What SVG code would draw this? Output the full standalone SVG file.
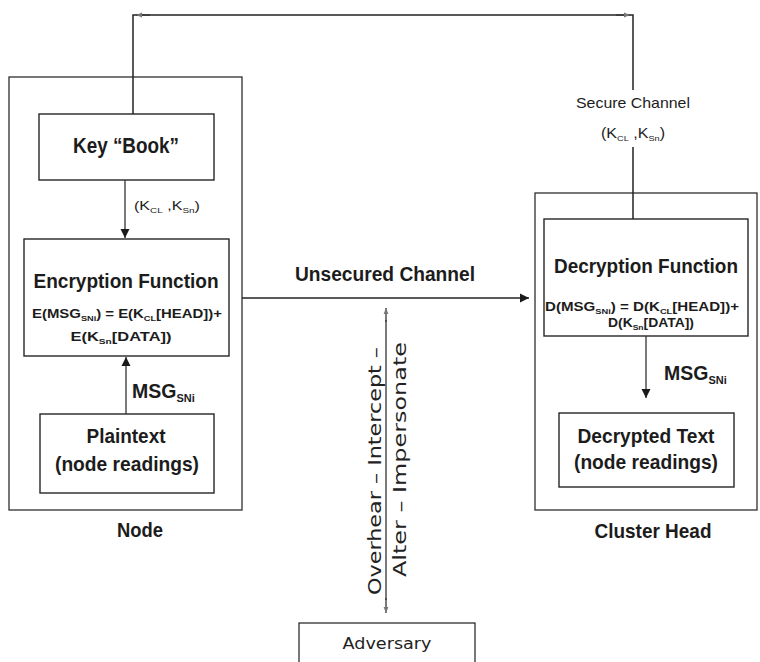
<svg xmlns="http://www.w3.org/2000/svg" width="760" height="662" viewBox="0 0 760 662">
  <style>
    .frame{fill:#fff;stroke:#2e2e2e;stroke-width:1.3}
    .box{fill:#fff;stroke:#262626;stroke-width:1.4}
    .t{font-family:"Liberation Sans",Arial,sans-serif;fill:#1c1c1c;text-anchor:middle}
    .s{text-anchor:start}
    .b{font-weight:bold}
    .h{font-family:"DejaVu Sans","Liberation Sans",sans-serif;fill:#222}
    .wire{stroke:#222;stroke-width:1.5;fill:none}
    .thin{stroke:#333;stroke-width:1.3;fill:none}
  </style>
  <defs>
    <marker id="arr" viewBox="0 0 10 10" refX="10" refY="5" markerWidth="9" markerHeight="12" markerUnits="userSpaceOnUse" orient="auto">
      <path d="M0,0 L10,5 L0,10 Z" fill="#1a1a1a"/>
    </marker>
    <marker id="tip" viewBox="0 0 10 10" refX="10" refY="5" markerWidth="6" markerHeight="6" markerUnits="userSpaceOnUse" orient="auto">
      <path d="M0,1 L10,5 L0,9 Z" fill="#777"/>
    </marker>
  </defs>
  <rect width="760" height="662" fill="#fff"/>

  <!-- sensor node -->
  <g id="node">
    <rect class="frame" x="9" y="77" width="233" height="433"/>
    <text class="t b" x="140" y="537" font-size="21" textLength="46" lengthAdjust="spacingAndGlyphs">Node</text>
  </g>

  <!-- cluster head -->
  <g id="cluster-head">
    <rect class="frame" x="535" y="193" width="222" height="317"/>
    <text class="t b" x="653" y="538" font-size="21" textLength="117" lengthAdjust="spacingAndGlyphs">Cluster Head</text>
  </g>

  <g id="key-book">
    <rect class="box" x="39" y="114" width="175" height="66"/>
    <text class="t b" x="126" y="153" font-size="22" textLength="106" lengthAdjust="spacingAndGlyphs">Key “Book”</text>
  </g>

  <g id="encryption">
    <rect class="box" x="24" y="239" width="205" height="117"/>
    <text class="t b" x="126" y="288" font-size="21" textLength="185" lengthAdjust="spacingAndGlyphs">Encryption Function</text>
    <text class="t b" x="127" y="318" font-size="13" textLength="190" lengthAdjust="spacingAndGlyphs">E(MSG<tspan font-size="8" dy="3">SNi</tspan><tspan dy="-3">)  = E(K</tspan><tspan font-size="8" dy="3">CL</tspan><tspan dy="-3">[HEAD])+</tspan></text>
    <text class="t b" x="121" y="341" font-size="13" textLength="101" lengthAdjust="spacingAndGlyphs">E(K<tspan font-size="8" dy="3">Sn</tspan><tspan dy="-3">[DATA])</tspan></text>
  </g>

  <g id="plaintext">
    <rect class="box" x="40" y="414" width="174" height="79"/>
    <text class="t b" x="126" y="443" font-size="21" textLength="79" lengthAdjust="spacingAndGlyphs">Plaintext</text>
    <text class="t b" x="127" y="471" font-size="21" textLength="144" lengthAdjust="spacingAndGlyphs">(node readings)</text>
  </g>

  <g id="decryption">
    <rect class="box" x="544" y="219" width="204" height="117"/>
    <text class="t b" x="646" y="273" font-size="21" textLength="184" lengthAdjust="spacingAndGlyphs">Decryption Function</text>
    <text class="t b" x="642" y="311" font-size="13" textLength="194" lengthAdjust="spacingAndGlyphs">D(MSG<tspan font-size="8" dy="3">SNi</tspan><tspan dy="-3">)   = D(K</tspan><tspan font-size="8" dy="3">CL</tspan><tspan dy="-3">[HEAD])+</tspan></text>
    <text class="t b" x="651" y="327" font-size="13" textLength="86" lengthAdjust="spacingAndGlyphs">D(K<tspan font-size="8" dy="3">Sn</tspan><tspan dy="-3">[DATA])</tspan></text>
  </g>

  <g id="decrypted-text">
    <rect class="box" x="559" y="413" width="175" height="74"/>
    <text class="t b" x="646" y="443" font-size="21" textLength="137" lengthAdjust="spacingAndGlyphs">Decrypted Text</text>
    <text class="t b" x="646" y="469" font-size="21" textLength="144" lengthAdjust="spacingAndGlyphs">(node readings)</text>
  </g>

  <g id="adversary">
    <rect class="frame" x="299" y="623" width="176" height="45"/>
    <text class="h" x="387" y="649" font-size="16" text-anchor="middle" textLength="89" lengthAdjust="spacingAndGlyphs">Adversary</text>
  </g>

  <!-- connectors -->
  <g id="connectors">
    <!-- secure channel loop over the top -->
    <path class="wire" d="M133,114 V15 H633 V90"/>
    <path class="wire" d="M633,147 V219"/>
    <path class="thin" d="M150,15 H136" marker-end="url(#tip)"/>
    <path class="thin" d="M616,15 H630" marker-end="url(#tip)"/>
    <text class="t" x="633" y="108" font-size="15" fill="#444" textLength="114" lengthAdjust="spacingAndGlyphs">Secure Channel</text>
    <text class="t" x="633" y="138" font-size="14" fill="#444" textLength="64" lengthAdjust="spacingAndGlyphs">(K<tspan font-size="8" dy="3">CL</tspan><tspan dy="-3"> ,K</tspan><tspan font-size="8" dy="3">Sn</tspan><tspan dy="-3">)</tspan></text>

    <!-- key book to encryption -->
    <path class="thin" d="M125,180 V238" marker-end="url(#arr)"/>
    <text class="t" x="167" y="210" font-size="13" textLength="66" lengthAdjust="spacingAndGlyphs">(K<tspan font-size="8" dy="3">CL</tspan><tspan dy="-3"> ,K</tspan><tspan font-size="8" dy="3">Sn</tspan><tspan dy="-3">)</tspan></text>

    <!-- plaintext to encryption -->
    <path class="thin" d="M126,414 V357" marker-end="url(#arr)"/>
    <text class="t s b" x="132" y="398" font-size="19.5">MSG<tspan font-size="11" dy="4">SNi</tspan></text>

    <!-- unsecured channel -->
    <path class="wire" d="M242,298 H529" marker-end="url(#arr)"/>
    <text class="t b" x="385" y="281" font-size="20" textLength="180" lengthAdjust="spacingAndGlyphs">Unsecured Channel</text>

    <!-- decryption to decrypted text -->
    <path class="thin" d="M646,336 V398" marker-end="url(#arr)"/>
    <text class="t s b" x="664" y="380" font-size="19.5">MSG<tspan font-size="11" dy="4">SNi</tspan></text>

    <!-- adversary tap -->
    <path class="thin" d="M386,322 V308" marker-end="url(#tip)"/>
    <path class="thin" d="M386,320 V600"/>
    <path class="thin" d="M386,598 V613" marker-end="url(#tip)"/>
    <text class="h" transform="translate(381,595) rotate(-90)" font-size="17" textLength="248" lengthAdjust="spacingAndGlyphs">Overhear – Intercept –</text>
    <text class="h" transform="translate(406,577) rotate(-90)" font-size="17" textLength="235" lengthAdjust="spacingAndGlyphs">Alter – Impersonate</text>
  </g>
</svg>
